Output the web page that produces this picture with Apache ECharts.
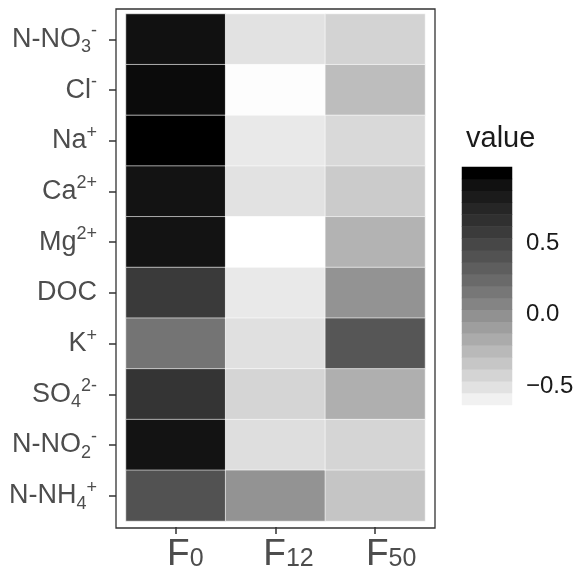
<!DOCTYPE html>
<html>
<head>
<meta charset="utf-8">
<script src="https://cdn.jsdelivr.net/npm/echarts@6/dist/echarts.min.js"></script>
<style>
  html, body { margin: 0; padding: 0; background: #fff; }
  #chart { width: 577px; height: 575px; }
</style>
</head>
<body>
<div id="chart"></div>
<script>
// Sampling sites (columns) and measured variables (rows, top to bottom)
const sites = ['F0', 'F12', 'F50'];
const siteLabels = ['{b0|F}{s|0}', '{b1|F}{s|12}', '{b2|F}{s|50}'];
const variables = ['N-NO3-', 'Cl-', 'Na+', 'Ca2+', 'Mg2+', 'DOC', 'K+', 'SO42-', 'N-NO2-', 'N-NH4+'];
const variableLabels = [
  '{b|N-NO}{sub|3}{sup|-}',
  '{b|Cl}{sup|-}',
  '{b|Na}{sup|+}',
  '{b|Ca}{sup|2+}',
  '{b|Mg}{sup|2+}',
  '{b|DOC}',
  '{b|K}{sup|+}',
  '{b|SO}{sub|4}{sup|2-}',
  '{b|N-NO}{sub|2}{sup|-}',
  '{b|N-NH}{sub|4}{sup|+}'
];

// Values per site, in the order of `variables`
const valuesF0  = [0.91, 0.94, 0.99, 0.90, 0.90, 0.60, 0.22, 0.65, 0.90, 0.44];
const valuesF12 = [-0.43, -0.58, -0.47, -0.43, -0.59, -0.47, -0.42, -0.36, -0.41, 0.03];
const valuesF50 = [-0.35, -0.22, -0.38, -0.30, -0.16, 0.03, 0.41, -0.14, -0.36, -0.27];

// Colour bar ticks
const legendTicks = [-0.5, 0, 0.5];

const columns = [valuesF0, valuesF12, valuesF50];
const cellData = [];
columns.forEach((col, ci) => {
  col.forEach((v, ri) => cellData.push([ci, ri, v]));
});

const allValues = columns.flat();
const vMin = Math.min(...allValues);
const vMax = Math.max(...allValues);

// White-to-black ramp, even steps in CIE L* lightness
function greyForLightness(L) {
  const f = (L + 16) / 116;
  const Y = L > 8 ? f * f * f : L / 903.3;
  const c = Y <= 0.0031308 ? 12.92 * Y : 1.055 * Math.pow(Y, 1 / 2.4) - 0.055;
  const g = Math.max(0, Math.min(255, Math.round(c * 255)));
  return 'rgb(' + g + ',' + g + ',' + g + ')';
}
const ramp = [];
for (let i = 0; i <= 40; i++) ramp.push(greyForLightness(100 - i * 2.5));

// Colour bar: 20 bands, each shaded by the upper value of its slice of the range
const nBins = 20;
const binIds = [];
const binData = [];
for (let i = 0; i < nBins; i++) {
  binIds.push(String(i));
  binData.push([0, i, vMin + (i + 1) * (vMax - vMin) / nBins]);
}
const halfStep = (vMax - vMin) / (nBins - 1) / 2;
const barMin = vMin - halfStep;
const barMax = vMax + halfStep;

const fontFamily = '"Liberation Sans", Arial, Helvetica, sans-serif';
const axisGrey = '#4d4d4d';
const inkColor = '#1a1a1a';

const chart = echarts.init(document.getElementById('chart'), null, { renderer: 'canvas' });

chart.setOption({
  animation: false,
  backgroundColor: '#ffffff',
  textStyle: { fontFamily: fontFamily },
  title: {
    text: 'value',
    left: 461,
    top: 119,
    textStyle: { fontFamily: fontFamily, fontSize: 29, fontWeight: 'normal', color: inkColor }
  },
  grid: [
    { left: 126, top: 14, width: 299, height: 508, show: false },
    { left: 462, top: 167, width: 50, height: 238, show: false },
    { left: 116, top: 9, width: 319, height: 519, show: true, borderColor: '#333333', borderWidth: 1.3, backgroundColor: 'transparent' }
  ],
  xAxis: [
    {
      type: 'category', gridIndex: 0, data: sites, position: 'bottom', offset: 6,
      axisLine: { show: false },
      axisTick: { show: true, length: 7, alignWithLabel: true, lineStyle: { color: '#333333', width: 1.5 } },
      splitLine: { show: false },
      axisLabel: {
        margin: 8,
        formatter: (v, i) => siteLabels[i],
        rich: {
          b0: { fontFamily: fontFamily, fontSize: 37, color: axisGrey, lineHeight: 40, padding: [0, 0, 0, 19] },
          b1: { fontFamily: fontFamily, fontSize: 37, color: axisGrey, lineHeight: 40, padding: [0, 0, 0, 26] },
          b2: { fontFamily: fontFamily, fontSize: 37, color: axisGrey, lineHeight: 40, padding: [0, 0, 0, 32] },
          s: { fontFamily: fontFamily, fontSize: 25, color: axisGrey, lineHeight: 25, verticalAlign: 'bottom', padding: [0, 0, 3, 0] }
        }
      }
    },
    { type: 'category', gridIndex: 1, data: ['bar'], show: false },
    { type: 'value', gridIndex: 2, show: false }
  ],
  yAxis: [
    {
      type: 'category', gridIndex: 0, data: variables, inverse: true, offset: 10,
      axisLine: { show: false },
      axisTick: { show: true, length: 7, alignWithLabel: true, lineStyle: { color: '#333333', width: 1.5 } },
      splitLine: { show: false },
      axisLabel: {
        margin: 19,
        formatter: (v, i) => variableLabels[i],
        rich: {
          b: { fontFamily: fontFamily, fontSize: 27, color: axisGrey, lineHeight: 34 },
          sup: { fontFamily: fontFamily, fontSize: 18, color: axisGrey, lineHeight: 12, verticalAlign: 'top' },
          sub: { fontFamily: fontFamily, fontSize: 18, color: axisGrey, lineHeight: 18, verticalAlign: 'bottom' }
        }
      }
    },
    { type: 'category', gridIndex: 1, data: binIds, show: false },
    {
      type: 'value', gridIndex: 1, position: 'left', min: barMin, max: barMax,
      axisLine: { show: false }, splitLine: { show: false }, axisLabel: { show: false },
      axisTick: { show: true, inside: true, length: 10, customValues: legendTicks, lineStyle: { color: '#ffffff', width: 1.2 } }
    },
    {
      type: 'value', gridIndex: 1, position: 'right', min: barMin, max: barMax,
      axisLine: { show: false }, splitLine: { show: false },
      axisTick: { show: true, inside: true, length: 10, customValues: legendTicks, lineStyle: { color: '#ffffff', width: 1.2 } },
      axisLabel: {
        show: true, margin: 14, customValues: legendTicks,
        fontFamily: fontFamily, fontSize: 24, color: inkColor,
        formatter: v => (v < 0 ? '\u2212' : '') + Math.abs(v).toFixed(1)
      }
    },
    { type: 'value', gridIndex: 2, show: false }
  ],
  visualMap: {
    type: 'continuous',
    show: false,
    min: vMin,
    max: vMax,
    dimension: 2,
    seriesIndex: [0, 1],
    inRange: { color: ramp }
  },
  series: [
    {
      type: 'heatmap',
      xAxisIndex: 0, yAxisIndex: 0,
      data: cellData,
      itemStyle: { borderColor: '#ffffff', borderWidth: 0.6 },
      emphasis: { disabled: true }
    },
    {
      type: 'heatmap',
      xAxisIndex: 1, yAxisIndex: 1,
      data: binData,
      emphasis: { disabled: true }
    }
  ]
});
</script>
</body>
</html>
